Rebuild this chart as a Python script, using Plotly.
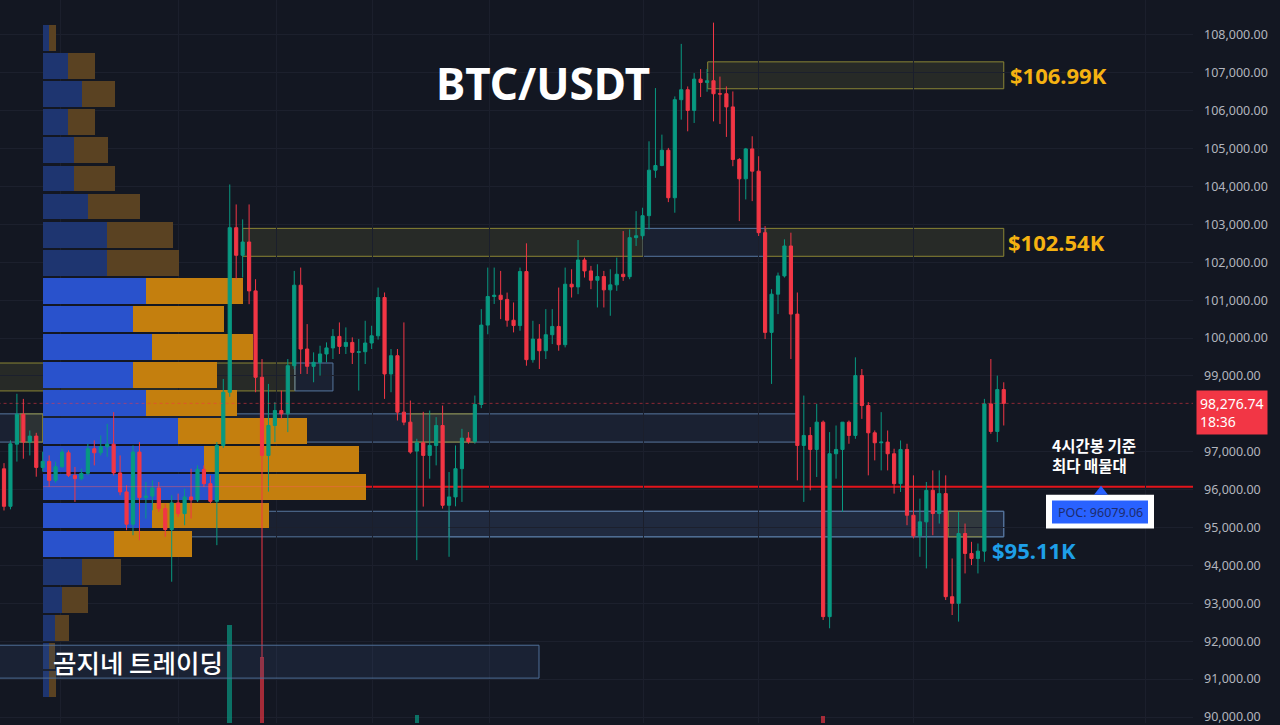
import plotly.graph_objects as go

# ---------------- DATA ----------------
OPEN = [96550,95560,97200,97990,97255,97413,96587,96745,96245,96605,96974,96377,96290,96430,97079,96974,97132,97200,96442,95940,
        95087,96992,95790,95830,96045,95500,94948,95650,95369,95808,95730,96535,96158,95693,97166,98570,102913,102184,102535,101245,
        98965,96903,97693,98087,98000,99271,101395,99711,99254,99360,99580,99740,100044,99780,99885,99622,99640,99869,100060,101070,
        99053,99535,98045,97781,97018,97237,96903,97166,97693,95587,95808,96553,97360,97270,98247,100342,101097,101130,101020,100471,
        100330,101755,99430,99974,99666,100088,100307,99825,101421,101350,102060,101772,101526,101623,101272,101404,101684,101620,102650,102700,
        103230,104430,104553,104957,103703,106290,106553,106008,106833,106745,106790,106447,106447,106100,104711,104202,104992,104404,102781,100150,
        101158,101640,102430,100632,97166,97430,97061,97781,92649,96947,97061,97781,97430,99009,98220,97500,97237,97255,96947,96158,
        97061,95324,94781,95150,95982,95369,95895,93175,93000,94842,94316,94184,94377,98263,97535,98640]
HIGH = [96700,97300,98530,98395,97561,97500,97000,96903,96737,97080,97035,96600,96553,97211,97300,97430,97737,98045,96903,96114,
        97166,97255,96202,96245,96202,95632,95851,95895,96026,96553,96640,96640,96377,97255,98921,104053,103526,103132,103526,101553,
        99447,98790,98308,98614,99447,101772,101860,100368,99623,99798,99886,100237,100412,100281,100018,99974,100456,100325,101333,101202,
        99711,99711,100413,98351,97342,98053,98087,97912,98220,96465,97166,97605,97518,98483,100763,101860,101860,101772,101200,100939,
        101860,102500,100456,100368,100763,100763,101333,101860,101816,102587,102123,101904,101947,101772,101816,102123,102824,102868,103350,103439,
        105192,106597,105368,105018,106377,107763,106640,106992,107097,107100,108324,106900,106640,106508,104750,105018,105325,104798,102956,101290,
        101728,102605,102781,101202,98483,97650,98263,97825,97518,97693,97781,97825,99491,99184,98308,97561,98045,97561,97079,97298,
        97211,96377,95763,96202,96508,96508,96377,94184,95413,95105,94623,94579,98395,99447,99009,98833]
LOW = [95450,95480,96740,96816,96903,96342,96474,96079,96184,96580,96334,95676,96245,96377,96640,96903,96868,96377,95851,94930,
       94798,94666,95237,95456,95413,94755,93570,95281,95061,95237,95676,96070,95632,94535,97100,98450,101553,101597,100895,98570,
       91570,95947,97255,97868,97518,99180,99053,99053,98834,99009,99360,99447,99579,99579,99316,98614,99316,99711,99960,98395,
       98570,97825,97700,96947,94140,95553,96290,96640,95500,94228,95560,95676,97211,97211,98150,100100,100900,100500,100300,100150,
       100192,99271,99350,99184,99447,99842,99666,99754,101070,101158,101597,101290,100807,100807,100588,101245,101509,101553,102430,102605,
       102868,104228,104535,103587,103308,105763,105456,105676,106360,106500,105718,105650,105308,104535,103087,103658,103614,102693,99974,98790,
       100632,101597,99447,96245,95676,95982,96334,92561,92342,96290,95413,97211,97342,97868,96377,96772,96508,96508,95895,95939,
       95061,94711,94228,93921,94798,95105,93087,92692,92518,93789,94009,93789,94097,97474,97255,97693]
CLOSE = [95560,97210,97990,97255,97413,96587,96745,96245,96605,96992,96377,96290,96430,97079,96974,97132,97200,96442,95940,95087,
         96992,95790,95830,96045,95500,94948,95650,95369,95808,95730,96535,96158,95693,97166,98570,102913,102184,102535,101245,98965,
         96903,97693,98087,98000,99271,101395,99711,99254,99360,99580,99740,100044,99780,99885,99622,99640,99869,100060,101070,99053,
         99535,98045,97781,96992,97237,96903,97166,97693,95587,95808,96553,97360,97270,98247,100342,101097,101130,101020,100471,100330,
         101755,99430,99974,99666,100088,100307,99825,101421,101350,102060,101772,101526,101623,101272,101404,101684,101620,102650,102700,103230,
         104430,104553,104957,103703,106290,106553,106008,106833,106745,106790,106447,106440,106100,104711,104202,104992,104404,102781,100150,101158,
         101640,102430,100632,97166,97430,97061,97781,92649,96947,97061,97781,97430,99009,98220,97500,97237,97255,96947,96158,97061,
         95324,94781,95150,95982,95369,95895,93175,93000,94842,94316,94184,94377,98263,97535,98640,98276.74]
CANDLE_IDX = list(range(len(CLOSE)))

# volume (only the bars that reach into view), arbitrary units
VOL_IDX = [35, 40, 64, 127]
VOL_VAL = [98, 66, 8, 7]
VOL_UP = [True, False, True, False]

# volume profile (24 rows, top -> bottom)
PROFILE_TOP = 108289
PROFILE_STEP = 741.2
PROFILE_UP = [6, 25, 39, 25, 31, 31, 45, 64, 64, 103, 90, 109, 90, 103, 135, 161, 173, 109, 71, 39, 19, 12, 6, 6]
PROFILE_DOWN = [7, 27, 33, 27, 34, 41, 52, 66, 72, 97, 91, 101, 84, 91, 129, 155, 150, 117, 78, 39, 26, 14, 6, 7]
VALUE_AREA = range(9, 19)

POC = 96079.06
LAST_PRICE = 98276.74
LAST_TIME = "18:36"

# price axis ticks (98,000 is hidden behind the last-price tag in the reference)
Y_TICKS = [90000, 91000, 92000, 93000, 94000, 95000, 96000, 97000, 99000, 100000,
           101000, 102000, 103000, 104000, 105000, 106000, 107000, 108000]

# zones: (start candle, end candle, low, high, kind)
ZONES = [
    (26.0, 155.0, 94755, 95429, "blue"),
    (69.0, 155.0, 94755, 95429, "blue"),
    (146.4, 152.1, 94755, 95429, "gold"),
    (-1.0, 122.9, 97255, 98000, "blue"),
    (2.5, 6.0, 97255, 98000, "gold"),
    (63.0, 73.1, 97255, 98000, "gold"),
    (-1.0, 45.1, 98605, 99342, "gold"),
    (45.1, 51.0, 98605, 99342, "blue"),
    (37.0, 99.1, 102158, 102895, "gold"),
    (99.1, 118.0, 102158, 102895, "blue"),
    (118.1, 155.0, 102158, 102895, "gold"),
    (109.1, 155.0, 106579, 107289, "gold"),
]
LEVEL_LABELS = [("$106.99K", 106934, "#f5b211"), ("$102.54K", 102526, "#f5b211"), ("$95.11K", 94395, "#1e9fe8")]

# ---------------- LAYOUT HELPERS ----------------
W, H = 1280, 725
PLOT_R = 1193
def px2i(px):
    return (px - 4) / 6.45
def py2p(py):
    return 108000 - (py - 35) / 0.038

BG = "#131722"
UPC = "#089981"
DNC = "#f23645"

fig = go.Figure()

# volume profile on base axes (x, y)
row_centers = [PROFILE_TOP - PROFILE_STEP * (i + 0.5) for i in range(len(PROFILE_UP))]
up_cols = ["#2952cc" if i in VALUE_AREA else "#1e3570" for i in range(len(PROFILE_UP))]
dn_cols = ["#c47f0e" if i in VALUE_AREA else "#5a4222" for i in range(len(PROFILE_UP))]
fig.add_trace(go.Bar(x=PROFILE_UP, y=row_centers, orientation="h", marker=dict(color=up_cols, line_width=0),
                     width=PROFILE_STEP * 0.92, xaxis="x", yaxis="y", showlegend=False, hoverinfo="skip"))
fig.add_trace(go.Bar(x=PROFILE_DOWN, y=row_centers, orientation="h", marker=dict(color=dn_cols, line_width=0),
                     width=PROFILE_STEP * 0.92, xaxis="x", yaxis="y", showlegend=False, hoverinfo="skip"))

# candles on overlay axis x2
fig.add_trace(go.Candlestick(x=CANDLE_IDX, open=OPEN, high=HIGH, low=LOW, close=CLOSE,
                             increasing=dict(line=dict(color=UPC, width=1), fillcolor=UPC),
                             decreasing=dict(line=dict(color=DNC, width=1), fillcolor=DNC),
                             xaxis="x2", yaxis="y", showlegend=False, whiskerwidth=0))

# volume
fig.add_trace(go.Bar(x=VOL_IDX, y=VOL_VAL, width=0.7, xaxis="x2", yaxis="y2",
                     marker=dict(color=["rgba(8,153,129,0.7)" if u else "rgba(242,54,69,0.65)" for u in VOL_UP], line_width=0),
                     showlegend=False, hoverinfo="skip"))

shapes = []
for x0, x1, lo, hi, kind in ZONES:
    if kind == "gold":
        shapes.append(dict(type="rect", xref="x2", yref="y", x0=x0, x1=x1, y0=lo, y1=hi, layer="below",
                           line=dict(color="#8a8534", width=1), fillcolor="rgba(120,120,62,0.20)"))
    else:
        shapes.append(dict(type="rect", xref="x2", yref="y", x0=x0, x1=x1, y0=lo, y1=hi, layer="below",
                           line=dict(color="#56769e", width=1), fillcolor="rgba(70,100,150,0.14)"))
# brand box
shapes.append(dict(type="rect", xref="x2", yref="y", x0=-1, x1=px2i(539), y0=py2p(680), y1=py2p(647), layer="above",
                   line=dict(color="#4f6f98", width=1), fillcolor="rgba(60,90,140,0.18)"))
# POC line
shapes.append(dict(type="line", xref="x2", yref="y", x0=px2i(43), x1=px2i(PLOT_R + 2), y0=POC, y1=POC, layer="below",
                   line=dict(color="#e3141b", width=2)))
shapes.append(dict(type="line", xref="x2", yref="y", x0=px2i(43), x1=px2i(366), y0=POC, y1=POC, layer="above",
                   line=dict(color="rgba(255,90,90,0.45)", width=1)))
# last price dotted line
shapes.append(dict(type="line", xref="x2", yref="y", x0=-1, x1=px2i(PLOT_R + 2), y0=LAST_PRICE, y1=LAST_PRICE, layer="above",
                   line=dict(color="rgba(242,54,69,0.55)", width=1, dash="dot")))
# POC label box
shapes.append(dict(type="rect", xref="x2", yref="y", x0=px2i(1046), x1=px2i(1154), y0=py2p(530), y1=py2p(496),
                   line=dict(width=0), fillcolor="white", layer="above"))
shapes.append(dict(type="rect", xref="x2", yref="y", x0=px2i(1052), x1=px2i(1148), y0=py2p(525), y1=py2p(502),
                   line=dict(width=0), fillcolor="#2962ff", layer="above"))
tri = "M {a},{b} L {c},{b} L {d},{e} Z".format(a=px2i(1094), b=py2p(496), c=px2i(1108), d=px2i(1101), e=py2p(487))
shapes.append(dict(type="path", xref="x2", yref="y", path=tri, fillcolor="#2962ff", line=dict(width=0), layer="above"))

ann = []
ann.append(dict(text="BTC/USDT", xref="paper", yref="paper", x=543 / PLOT_R, y=1 - 83 / H, showarrow=False,
                font=dict(family="Noto Sans", size=44, color="white", weight=700), xanchor="center", yanchor="middle"))
lab_x = {"$106.99K": 1008, "$102.54K": 1006, "$95.11K": 990}
for txt, p, col in LEVEL_LABELS:
    ann.append(dict(text=txt, xref="x2", yref="y", x=px2i(lab_x[txt]), y=p, showarrow=False, xanchor="left", yanchor="middle",
                    font=dict(family="Noto Sans", size=22, color=col, weight=700)))
ann.append(dict(text="4시간봉 기준<br>최다 매물대", xref="x2", yref="y", x=px2i(1050), y=py2p(456), showarrow=False,
                xanchor="left", yanchor="middle", align="left",
                font=dict(family="Noto Sans CJK KR", size=15.5, color="white", weight=700)))
ann.append(dict(text="POC: %.2f" % POC, xref="x2", yref="y", x=px2i(1100), y=py2p(513.5), showarrow=False,
                xanchor="center", yanchor="middle", font=dict(family="Noto Sans", size=12.5, color="#1d2c6e")))
ann.append(dict(text="곰지네 트레이딩", xref="x2", yref="y", x=px2i(51), y=py2p(663), showarrow=False,
                xanchor="left", yanchor="middle", font=dict(family="Noto Sans CJK KR", size=25.5, color="white", weight=500)))
ann.append(dict(text="{:,.2f}<br>{}".format(LAST_PRICE, LAST_TIME), xref="paper", yref="y", x=1196 / PLOT_R,
                y=py2p(414), showarrow=False, xanchor="left", yanchor="middle", align="left",
                bgcolor=DNC, borderpad=3, font=dict(family="Noto Sans", size=14, color="white")))

GRID_X = [8.8, 27, 42.2, 57.2, 75.2, 99.1, 117, 141, 176.9]

fig.update_layout(
    width=W, height=H, margin=dict(l=0, r=W - PLOT_R, t=0, b=0),
    paper_bgcolor=BG, plot_bgcolor=BG, barmode="stack", bargap=0,
    shapes=shapes, annotations=ann, showlegend=False,
    xaxis=dict(domain=[0, 1], range=[-43, PLOT_R - 43], visible=False, fixedrange=True, rangeslider=dict(visible=False)),
    xaxis2=dict(overlaying="x", anchor="y", range=[px2i(0), px2i(PLOT_R)], showticklabels=False, showgrid=True,
                gridcolor="#1b1f2c", tickvals=GRID_X, zeroline=False, ticks="", rangeslider=dict(visible=False)),
    yaxis=dict(side="right", range=[py2p(H), py2p(0)], tickvals=Y_TICKS, tickformat=",.2f", showgrid=True,
               gridcolor="#1c202d", zeroline=False, ticks="", ticklabelstandoff=10, ticklabeloverflow="allow",
               tickfont=dict(family="Noto Sans", size=12.5, color="#b2b5be")),
    yaxis2=dict(overlaying="y", anchor="x2", range=[0, H], visible=False),
)

fig.write_html("out.html", config={"displayModeBar": False},
               post_script="document.body.style.margin='0';document.body.style.padding='0';"
                           "document.body.style.background='" + BG + "';document.body.style.overflow='hidden';")
